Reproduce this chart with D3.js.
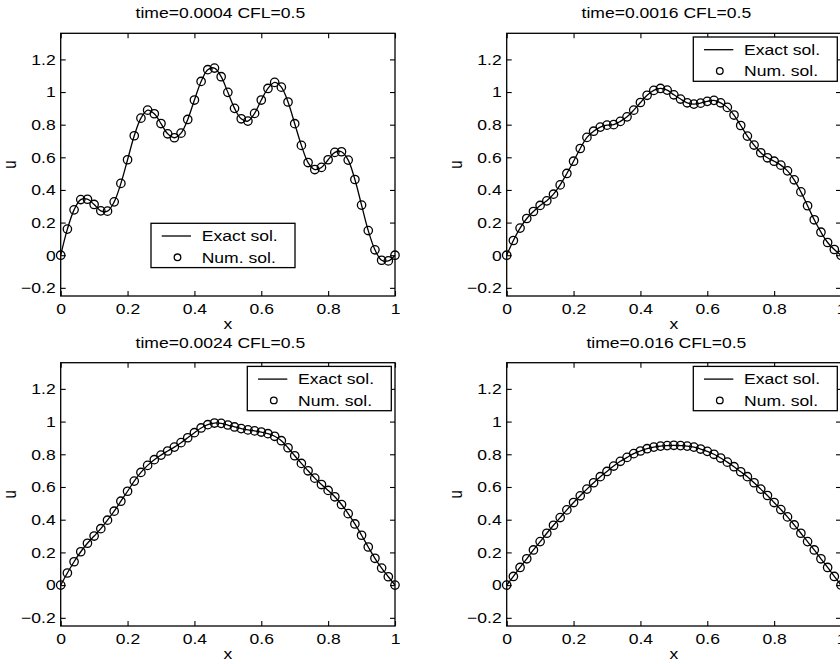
<!DOCTYPE html>
<html><head><meta charset="utf-8">
<script src="https://cdn.jsdelivr.net/npm/d3@7"></script>
<style>
body{margin:0;background:#fff}
svg{display:block}
text{font-family:"Liberation Sans",Arial,Helvetica,sans-serif;fill:#000}
</style>
</head><body>
<svg id="c" width="840" height="664"></svg>
<script>
const xValues = [0,0.02,0.04,0.06,0.08,0.1,0.12,0.14,0.16,0.18,0.2,0.22,0.24,0.26,0.28,0.3,0.32,0.34,0.36,0.38,0.4,0.42,0.44,0.46,0.48,0.5,0.52,0.54,0.56,0.58,0.6,0.62,0.64,0.66,0.68,0.7,0.72,0.74,0.76,0.78,0.8,0.82,0.84,0.86,0.88,0.9,0.92,0.94,0.96,0.98,1];
const u1 = [0,0.16,0.278,0.341,0.343,0.311,0.272,0.27,0.327,0.44,0.585,0.732,0.84,0.889,0.867,0.807,0.744,0.72,0.748,0.832,0.951,1.065,1.137,1.147,1.094,0.998,0.9,0.836,0.822,0.869,0.951,1.022,1.059,1.03,0.939,0.806,0.673,0.568,0.525,0.538,0.585,0.63,0.634,0.583,0.464,0.307,0.151,0.033,-0.031,-0.035,0];
const u2 = [0,0.09,0.166,0.225,0.268,0.305,0.333,0.374,0.431,0.501,0.576,0.654,0.722,0.76,0.785,0.797,0.8,0.82,0.848,0.889,0.936,0.98,1.01,1.022,1.012,0.983,0.957,0.934,0.926,0.932,0.943,0.949,0.934,0.906,0.859,0.795,0.73,0.675,0.628,0.597,0.576,0.552,0.517,0.462,0.388,0.303,0.217,0.141,0.078,0.035,0];
const u3 = [0,0.074,0.143,0.204,0.256,0.3,0.345,0.397,0.452,0.513,0.574,0.636,0.689,0.732,0.767,0.795,0.82,0.844,0.871,0.901,0.932,0.961,0.981,0.991,0.989,0.979,0.967,0.957,0.949,0.943,0.936,0.926,0.91,0.883,0.84,0.791,0.744,0.699,0.654,0.615,0.579,0.54,0.493,0.437,0.374,0.305,0.233,0.164,0.104,0.051,0];
const u4 = [0,0.053,0.108,0.161,0.215,0.266,0.317,0.366,0.413,0.46,0.505,0.546,0.587,0.626,0.663,0.695,0.728,0.757,0.781,0.804,0.82,0.834,0.844,0.85,0.853,0.855,0.853,0.85,0.844,0.832,0.818,0.8,0.777,0.752,0.724,0.693,0.663,0.626,0.587,0.548,0.505,0.462,0.417,0.368,0.317,0.266,0.215,0.161,0.108,0.053,0];
const titles = ["time=0.0004 CFL=0.5","time=0.0016 CFL=0.5","time=0.0024 CFL=0.5","time=0.016 CFL=0.5"];
const xTicks = [0,0.2,0.4,0.6,0.8,1];
const xTickLabels = ["0","0.2","0.4","0.6","0.8","1"];
const yTicks = [-0.2,0,0.2,0.4,0.6,0.8,1,1.2];
const yTickLabels = ["\u22120.2","0","0.2","0.4","0.6","0.8","1","1.2"];
const legendLabels = ["Exact sol.","Num. sol."];
const xLabel = "x", yLabel = "u";
const xDomain = [0,1], yDomain = [-0.25,1.36];

const SX = 1.17, FS = 15;
const svg = d3.select("#c");
const panels = [
  {u:u1, title:titles[0], L:60.7, R:395, T:33.3, B:296, leg:"low"},
  {u:u2, title:titles[1], L:506.7, R:841, T:33.3, B:296, leg:"ne"},
  {u:u3, title:titles[2], L:60.7, R:395, T:362.7, B:626, leg:"ne"},
  {u:u4, title:titles[3], L:506.7, R:841, T:362.7, B:626, leg:"ne"}
];

function txt(parent, x, y, s, anchor, rot){
  return parent.append("text")
    .attr("transform", `translate(${x},${y}) scale(${SX},1)` + (rot ? " rotate(-90)" : ""))
    .attr("text-anchor", anchor).attr("font-size", FS).text(s);
}
function styleAxis(sel){
  sel.attr("font-size", FS).attr("font-family", null);
  sel.select(".domain").remove();
  sel.selectAll("line").attr("stroke","#000").attr("stroke-width",1.1);
  sel.selectAll("text").each(function(){
    const t = d3.select(this);
    const x = +t.attr("x") || 0;
    t.attr("x", x / SX).attr("transform", `scale(${SX},1)`).attr("fill","#000");
  });
}

panels.forEach(p => {
  const g = svg.append("g");
  const x = d3.scaleLinear().domain(xDomain).range([p.L, p.R]);
  const y = d3.scaleLinear().domain(yDomain).range([p.B, p.T]);

  g.append("g").attr("transform",`translate(0,${p.B})`)
    .call(d3.axisBottom(x).tickValues(xTicks).tickFormat((d,i)=>xTickLabels[i]).tickSizeInner(-5).tickSizeOuter(0).tickPadding(7))
    .call(styleAxis);
  g.append("g").attr("transform",`translate(0,${p.T})`)
    .call(d3.axisTop(x).tickValues(xTicks).tickFormat("").tickSizeInner(-5).tickSizeOuter(0))
    .call(styleAxis);
  g.append("g").attr("transform",`translate(${p.L},0)`)
    .call(d3.axisLeft(y).tickValues(yTicks).tickFormat((d,i)=>yTickLabels[i]).tickSizeInner(-5).tickSizeOuter(0).tickPadding(5))
    .call(styleAxis);
  g.append("g").attr("transform",`translate(${p.R},0)`)
    .call(d3.axisRight(y).tickValues(yTicks).tickFormat("").tickSizeInner(-5).tickSizeOuter(0))
    .call(styleAxis);

  g.append("rect").attr("x",p.L).attr("y",p.T).attr("width",p.R-p.L).attr("height",p.B-p.T)
    .attr("fill","none").attr("stroke","#000").attr("stroke-width",1.3);

  const line = d3.line().x((d,i)=>x(xValues[i])).y(d=>y(d)).curve(d3.curveCatmullRom);
  g.append("path").datum(p.u).attr("d", line).attr("fill","none").attr("stroke","#000").attr("stroke-width",1.3);
  g.selectAll("circle.m").data(p.u).join("circle").attr("class","m")
    .attr("cx",(d,i)=>x(xValues[i])).attr("cy",d=>y(d)).attr("r",4.2)
    .attr("fill","none").attr("stroke","#000").attr("stroke-width",1.3);

  const cx = (p.L + p.R) / 2;
  txt(g, cx - 7.5, p.T - 15, p.title, "middle");
  txt(g, cx, p.B + 33, xLabel, "middle");
  txt(g, p.L - 44.5, (p.T + p.B) / 2, yLabel, "middle", true);

  // legend
  const lw = 144, lh = 44.3;
  const lx = p.leg === "low" ? p.L + 90.3 : p.R - 3.7 - lw;
  const ly = p.leg === "low" ? p.B - 72.7 : p.T + 3.7;
  const lg = g.append("g").attr("transform",`translate(${lx},${ly})`);
  lg.append("rect").attr("width",lw).attr("height",lh).attr("fill","#fff").attr("stroke","#000").attr("stroke-width",1.3);
  lg.append("line").attr("x1",10.7).attr("x2",40).attr("y1",12.7).attr("y2",12.7).attr("stroke","#000").attr("stroke-width",1.3);
  lg.append("circle").attr("cx",26.5).attr("cy",34).attr("r",3.3).attr("fill","none").attr("stroke","#000").attr("stroke-width",1.3);
  txt(lg, 50.7, 12.7 + 5.3, legendLabels[0], "start");
  txt(lg, 50.7, 34 + 5.3, legendLabels[1], "start");
});
</script>
</body></html>
